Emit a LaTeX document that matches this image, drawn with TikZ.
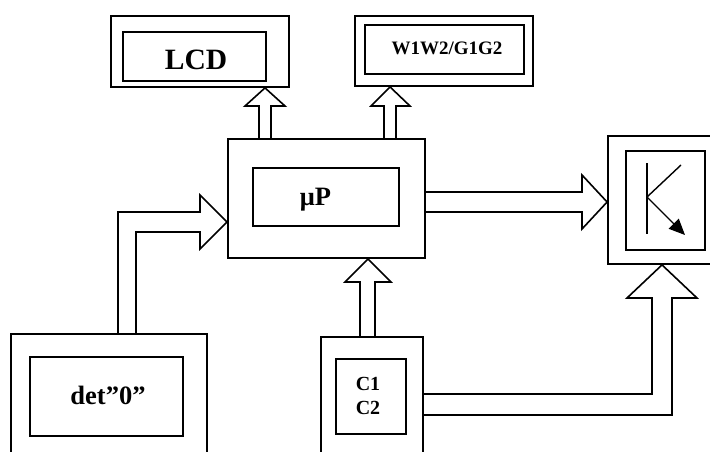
\documentclass[tikz,border=0pt]{standalone}
\usepackage{fontspec}
\setmainfont{Liberation Serif}
\usetikzlibrary{arrows.meta}
\begin{document}
\begin{tikzpicture}[x=1pt,y=-1pt,
  outerbox/.style={draw,line width=1.8pt,inner sep=0pt},
  innerbox/.style={draw,line width=1.6pt,inner sep=0pt},
  blk/.style={draw,line width=1.6pt,line join=miter},
  lbl/.style={inner sep=0pt,align=center}]
\useasboundingbox (0,0) rectangle (710,451);
\clip (0,0) rectangle (710,451);
% outer boxes
\node[outerbox,minimum width=178pt,minimum height=71pt] (lcdO) at (200,51.5) {};
\node[outerbox,minimum width=178pt,minimum height=70pt] (wO) at (444,51) {};
\node[outerbox,minimum width=197pt,minimum height=119pt] (mpO) at (326.5,198.5) {};
\node[outerbox,minimum width=106pt,minimum height=128pt] (kO) at (661,200) {};
\node[outerbox,minimum width=196pt,minimum height=136pt] (detO) at (109,402) {};
\node[outerbox,minimum width=102pt,minimum height=133pt] (cO) at (372,403.5) {};
% inner boxes
\node[innerbox,minimum width=143pt,minimum height=49pt] (lcdI) at (194.5,56.5) {};
\node[innerbox,minimum width=159pt,minimum height=49pt] (wI) at (444.5,49.5) {};
\node[innerbox,minimum width=146pt,minimum height=58pt] (mpI) at (326,197) {};
\node[innerbox,minimum width=79pt,minimum height=99pt] (kI) at (665.5,200.5) {};
\node[innerbox,minimum width=153pt,minimum height=79pt] (detI) at (106.5,396.5) {};
\node[innerbox,minimum width=70pt,minimum height=75pt] (cI) at (371,396.5) {};
% labels
\node[lbl,font=\fontsize{29.5}{34}\selectfont\bfseries] (tlcd) at (196,60) {LCD};
\node[lbl,font=\fontsize{19}{23}\selectfont\bfseries] (tw) at (447,48) {W1W2/G1G2};
\node[lbl,font=\fontsize{26.5}{30}\selectfont\bfseries] (tmp) at (315.5,200) {μP};
\node[lbl,font=\fontsize{26.5}{30}\selectfont\bfseries] (tdet) at (108,395) {det”0”};
\node[lbl,font=\fontsize{20}{24}\selectfont\bfseries] (tc) at (368,396) {C1\\C2};
% transistor symbol
\coordinate (kb) at (647,197);
\draw[line width=1.4pt] (647,163) -- (647,234);
\draw[line width=1.4pt] (kb) -- (681,165);
\draw[line width=1.4pt,-{Triangle[length=16pt,width=14pt]}] (kb) -- (685,235);
% block arrows
% uP -> LCD
\draw[blk] (259,0 |- mpO.north) -- (259,106) -- (245,106) -- (265,0 |- lcdO.south) -- (285,106) -- (271,106) -- (271,0 |- mpO.north);
% uP -> W1W2
\draw[blk] (384,0 |- mpO.north) -- (384,106) -- (371,106) -- (390,0 |- wO.south) -- (410,106) -- (396,106) -- (396,0 |- mpO.north);
% det -> uP
\draw[blk] (118,0 |- detO.north) -- (118,212) -- (200,212) -- (200,195) -- (mpO.west |- 0,222) -- (200,249) -- (200,232) -- (136,232) -- (136,0 |- detO.north);
% uP -> K
\draw[blk] (mpO.east |- 0,192) -- (582,192) -- (582,175) -- (kO.west |- 0,202) -- (582,229) -- (582,212) -- (mpO.east |- 0,212);
% C -> uP
\draw[blk] (360,0 |- cO.north) -- (360,282) -- (345,282) -- (368,0 |- mpO.south) -- (391,282) -- (375,282) -- (375,0 |- cO.north);
% C -> K
\draw[blk] (cO.east |- 0,394) -- (652,394) -- (652,298) -- (627,298) -- (662,0 |- kO.south) -- (697,298) -- (672,298) -- (672,415) -- (cO.east |- 0,415);
\end{tikzpicture}
\end{document}
